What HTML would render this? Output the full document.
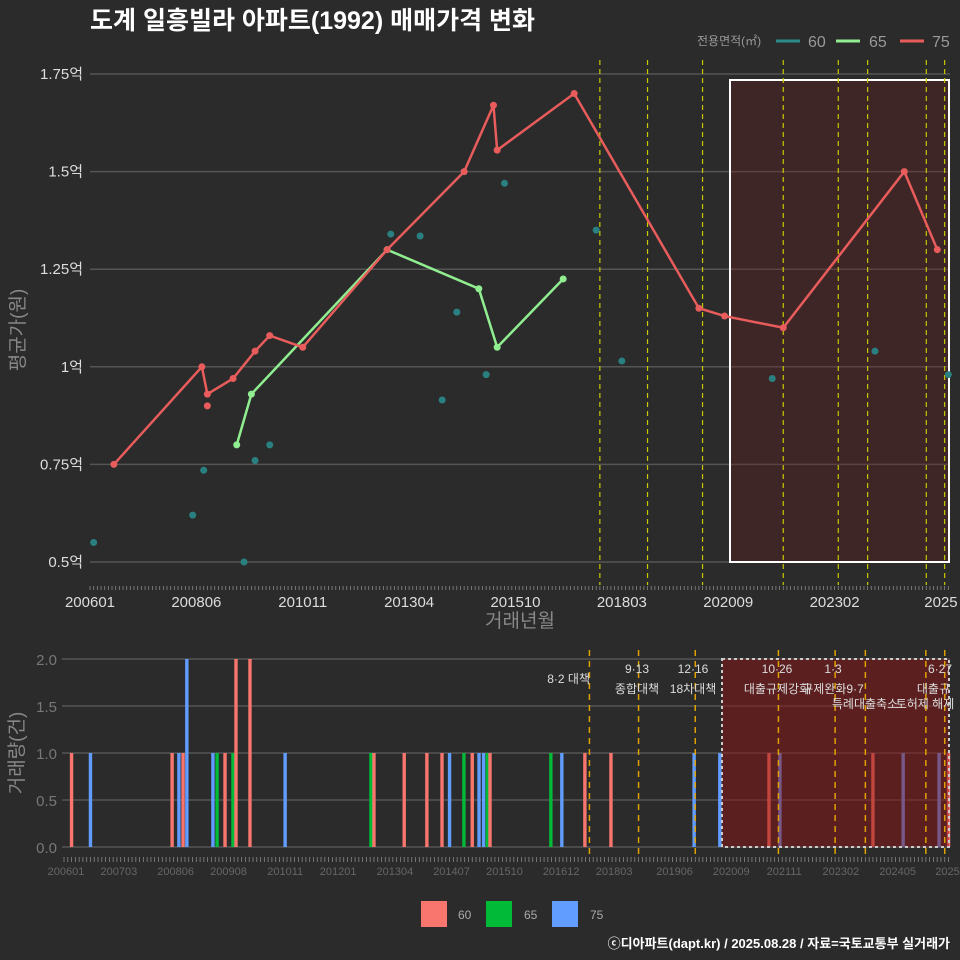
<!DOCTYPE html>
<html><head><meta charset="utf-8">
<style>
html,body{margin:0;padding:0;background:#2b2b2b;}
svg{display:block;font-family:"Liberation Sans","Noto Sans CJK KR",sans-serif;}
</style></head>
<body>
<svg id="c" width="960" height="960" viewBox="0 0 960 960">
<rect width="960" height="960" fill="#2b2b2b"/>
<text x="90" y="29" fill="#fff" font-size="25" font-weight="bold">도계 일흥빌라 아파트(1992) 매매가격 변화</text>
<g>
<text x="697" y="45" fill="#999" font-size="12">전용면적(㎡)</text>
<line x1="776" y1="41" x2="800" y2="41" stroke="#2a8a8a" stroke-width="3"/><text x="808" y="47" fill="#999" font-size="16">60</text>
<line x1="836" y1="41" x2="860" y2="41" stroke="#90ee90" stroke-width="3"/><text x="869" y="47" fill="#999" font-size="16">65</text>
<line x1="900" y1="41" x2="924" y2="41" stroke="#e85c5c" stroke-width="3"/><text x="932" y="47" fill="#999" font-size="16">75</text>
</g>
<g id="gtop"></g>
<g id="gbot"></g>
<g>
<rect x="421" y="901" width="26" height="26" fill="#f8766d"/><text x="458" y="919" fill="#aaa" font-size="12">60</text>
<rect x="486" y="901" width="26" height="26" fill="#00ba38"/><text x="524" y="919" fill="#aaa" font-size="12">65</text>
<rect x="552" y="901" width="26" height="26" fill="#619cff"/><text x="590" y="919" fill="#aaa" font-size="12">75</text>
</g>
<text x="950" y="948" text-anchor="end" fill="#fff" font-size="13" font-weight="bold">ⓒ디아파트(dapt.kr) / 2025.08.28 / 자료=국토교통부 실거래가</text>
</svg>
<script>
// months since 2006-01
const redMonths=[6.5,30.5,32,39,45,49,58,81,102,110,111,132,166,173,189,222,231];
const redValues=[0.75,1.0,0.93,0.97,1.04,1.08,1.05,1.30,1.50,1.67,1.555,1.70,1.15,1.13,1.10,1.50,1.30];
const redExtraMonths=[32];
const redExtraValues=[0.90];
const greenMonths=[40,44,81,106,111,129];
const greenValues=[0.80,0.93,1.30,1.20,1.05,1.225];
const tealMonths=[1,28,31,42,45,49,82,90,96,100,108,113,138,145,186,214,234];
const tealValues=[0.55,0.62,0.735,0.50,0.76,0.80,1.34,1.335,0.915,1.14,0.98,1.47,1.35,1.015,0.97,1.04,0.98];
const policyMonths=[139,152,167,189,204,212,228,233];
const topYTicks=[0.5,0.75,1,1.25,1.5,1.75];
const topYLabels=["0.5억","0.75억","1억","1.25억","1.5억","1.75억"];
const topXTickMonths=[0,29,58,87,116,145,174,203,232];
const topXLabels=["200601","200806","201011","201304","201510","201803","202009","202302","2025"];
const botXTickMonths=[0,14,29,43,58,72,87,102,116,131,145,161,176,190,205,220,234];
const botXLabels=["200601","200703","200806","200908","201011","201201","201304","201407","201510","201612","201803","201906","202009","202111","202302","202405","20250"];
const barMonths=[2,7,28.6,30.4,31.5,32.5,39.4,40.5,42.6,44.7,45.5,49.2,58.5,81.2,82,90,96,100,102,105.8,108,109.8,111,112,112.7,128.8,131.7,137.8,144.7,166.7,173.5,186.5,189.4,214,222,231.5,234];
const barCounts=[1,1,1,1,1,2,1,1,1,1,2,2,1,1,1,1,1,1,1,1,1,1,1,1,1,1,1,1,1,1,1,1,1,1,1,1,1];
const barSizes=[60,75,60,75,60,75,75,65,60,65,60,60,75,65,60,60,60,60,75,65,60,75,75,65,60,65,75,60,60,75,75,60,75,60,75,75,60];
const botYTicks=[0,0.5,1,1.5,2];
const botYLabels=["0.0","0.5","1.0","1.5","2.0"];

const NS="http://www.w3.org/2000/svg";
function mk(p,tag,a){const e=document.createElementNS(NS,tag);for(const k in a)e.setAttribute(k,a[k]);p.appendChild(e);return e;}
const tx=m=>90+m*3.668, ty=v=>562-(v-0.5)*390.4;
const bx=m=>64+m*3.78, by=v=>847-v*94;
const gTop=document.getElementById('gtop'), gBot=document.getElementById('gbot');

topYTicks.forEach((v,i)=>{
  const l=mk(gTop,'line',{x1:90,x2:950,y1:ty(v),y2:ty(v),stroke:'#555','stroke-width':1.5});
  
  
  const t=mk(gTop,'text',{x:83,y:ty(v)+5,'text-anchor':'end',fill:'#ddd','font-size':15});
  t.textContent=topYLabels[i];
  
  
});
for(let m=0;m<=234;m++){mk(gTop,'line',{x1:tx(m),x2:tx(m),y1:586,y2:590,stroke:'#888','stroke-width':0.8});}
topXTickMonths.forEach((m,i)=>{
  const t=mk(gTop,'text',{x:tx(m),y:607,'text-anchor':'middle',fill:'#ddd','font-size':15});
  t.textContent=topXLabels[i];
  
  
});
let at=mk(gTop,'text',{x:520,y:627,'text-anchor':'middle',fill:'#888','font-size':19});at.textContent='거래년월';


at=mk(gTop,'text',{x:0,y:0,'text-anchor':'middle',fill:'#888','font-size':19,transform:'translate(24,330) rotate(-90)'});at.textContent='평균가(원)';


let sh=mk(gTop,'rect',{x:730,y:80,width:219,height:482,fill:'rgba(110,25,25,0.3)',stroke:'#fff','stroke-width':2});


policyMonths.forEach(m=>{
  const l=mk(gTop,'line',{x1:tx(m),x2:tx(m),y1:60,y2:585,stroke:'#c8c800','stroke-width':1.2,'stroke-dasharray':'5,4'});
  
  
});
tealMonths.forEach((m,i)=>{
  const c=mk(gTop,'circle',{cx:tx(m),cy:ty(tealValues[i]),r:3.5,fill:'#2a8080'});
  
  
});
function series(ms,vs,col,name){
  const p=mk(gTop,'polyline',{points:ms.map((m,i)=>tx(m)+','+ty(vs[i])).join(' '),fill:'none',stroke:col,'stroke-width':2.5});
  
  
  ms.forEach((m,i)=>{const c=mk(gTop,'circle',{cx:tx(m),cy:ty(vs[i]),r:3.5,fill:col});
    
    });
}
series(greenMonths,greenValues,'#90ee90','65');
series(redMonths,redValues,'#e85c5c','75');
redExtraMonths.forEach((m,i)=>{const c=mk(gTop,'circle',{cx:tx(m),cy:ty(redExtraValues[i]),r:3.5,fill:'#e85c5c'});
  
  });

botYTicks.forEach((v,i)=>{
  const l=mk(gBot,'line',{x1:62,x2:950,y1:by(v),y2:by(v),stroke:'#555','stroke-width':1.5});
  
  
  const t=mk(gBot,'text',{x:57,y:by(v)+6,'text-anchor':'end',fill:'#777','font-size':15});
  t.textContent=botYLabels[i];
  
  
});
at=mk(gBot,'text',{x:0,y:0,'text-anchor':'middle',fill:'#888','font-size':19,transform:'translate(23,753) rotate(-90)'});at.textContent='거래량(건)';


for(let m=0;m<=234;m++){mk(gBot,'line',{x1:bx(m),x2:bx(m),y1:857,y2:862,stroke:'#888','stroke-width':0.8});}
botXTickMonths.forEach((m,i)=>{
  const t=mk(gBot,'text',{x:bx(m)+2,y:875,'text-anchor':'middle',fill:'#666','font-size':11});
  t.textContent=botXLabels[i];
  
  
});
const col={60:'#f8766d',65:'#00ba38',75:'#619cff'};
barMonths.forEach((m,i)=>{
  const r=mk(gBot,'rect',{x:bx(m)-1.7,y:by(barCounts[i]),width:3.4,height:barCounts[i]*94,fill:col[barSizes[i]]});
  
  
});
sh=mk(gBot,'rect',{x:722,y:659,width:227,height:188,fill:'rgba(140,20,20,0.5)',stroke:'#ccc','stroke-width':2,'stroke-dasharray':'3,3'});


policyMonths.forEach(m=>{
  const l=mk(gBot,'line',{x1:bx(m),x2:bx(m),y1:650,y2:857,stroke:'#e0a000','stroke-width':1.5,'stroke-dasharray':'6,5'});
  
  
});
const notes=[["8·2 대책",590,683,'end'],["9·13",637,673,'middle'],["종합대책",637,693,'middle'],["12·16",693,673,'middle'],["18차대책",693,693,'middle'],
["10·26",777,673,'middle'],["대출규제강화",777,693,'middle'],["1·3",833,673,'middle'],["규제완화9·7",833,693,'middle'],["특례대출축소",865,708,'middle'],["토허제 해제",925,708,'middle'],["6·27",940,673,'middle'],["대출규",950,693,'end']];
notes.forEach(n=>{
  const t=mk(gBot,'text',{x:n[1],y:n[2],'text-anchor':n[3],fill:'#ddd','font-size':12});
  t.textContent=n[0];
  
  
});
</script>
</body></html>
